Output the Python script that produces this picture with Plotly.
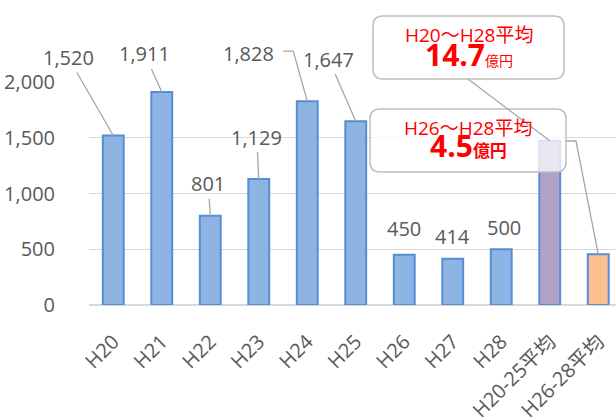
import plotly.graph_objects as go

# --- data -------------------------------------------------------------
categories = ["H20", "H21", "H22", "H23", "H24", "H25", "H26", "H27", "H28",
              "H20-25平均", "H26-28平均"]
yearly = [1520, 1911, 801, 1129, 1828, 1647, 450, 414, 500]
avg_early = round(sum(yearly[:6]) / 6, 1)   # H20-25 average
avg_late = round(sum(yearly[6:]) / 3, 1)    # H26-28 average
values = yearly + [avg_early, avg_late]
value_labels = [f"{v:,}" for v in yearly]

y_ticks = [0, 500, 1000, 1500, 2000]
y_tick_text = [f"{v:,}" for v in y_ticks]

box_titles = ["H20～H28平均", "H26～H28平均"]
box_amounts = ["14.7", "4.5"]
box_unit = "億円"

# --- styling ----------------------------------------------------------
W, H = 616, 419
ML, MR, MT, MB = 89, 0, 82, 114
PW, PH = W - ML - MR, H - MT - MB
FONT = "Open Sans, Noto Sans CJK JP"
GREY_TXT = "#595959"
LEADER = "#A6A6A6"
BLUE_FILL, BLUE_EDGE = "#8EB4E3", "#558ED5"
colors = [BLUE_FILL] * 9 + ["#B1A0C7", "#FAC090"]
CAT_PX = 48.5                      # pixel width of one category slot
X_RANGE = [-0.5, -0.5 + PW / CAT_PX]
Y_RANGE = [0, 2000]


def px(x, y):
    """pixel position -> paper coordinates"""
    return (x - ML) / PW, (H - MB - y) / PH


def cat_px(i):
    return ML + (i + 0.5) * CAT_PX


def val_px(v):
    return H - MB - v / Y_RANGE[1] * PH


fig = go.Figure(go.Bar(
    x=categories, y=values,
    marker=dict(color=colors, line=dict(color=BLUE_EDGE, width=2)),
    width=0.43,
    hoverinfo="x+y",
))

# value labels: (dx, dy) offset of label centre from bar top, leader on/off
label_offsets = [(-45, -78, True), (-17, -38, True), (-2, -32, True),
                 (-2, -42, True), None, (-27, -62, True),
                 (0, -26, False), (0, -22, False), (3, -22, False)]
LABEL_FONT = dict(family=FONT, size=20, color=GREY_TXT)
annotations = []
for i, (lab, off) in enumerate(zip(value_labels, label_offsets)):
    if off is None:
        continue
    dx, dy, leader = off
    if leader:
        annotations.append(dict(
            x=i, y=yearly[i], xref="x", yref="y", text=lab,
            showarrow=True, arrowhead=0, arrowwidth=1.3, arrowcolor=LEADER,
            ax=dx, ay=dy, font=LABEL_FONT))
    else:
        annotations.append(dict(
            x=i, y=yearly[i], xref="x", yref="y", text=lab,
            showarrow=False, yshift=-dy, xshift=dx,
            xanchor="center", yanchor="middle", font=LABEL_FONT))

# H24 label with an elbow leader
i24 = 4
lx, ly = cat_px(i24) - 59, val_px(yearly[i24]) - 48
ax_, ay_ = px(lx, ly)
annotations.append(dict(x=ax_, y=ay_, xref="paper", yref="paper",
                        text=value_labels[i24], showarrow=False,
                        xanchor="center", yanchor="middle", font=LABEL_FONT))

shapes = []


def line_path(points):
    pts = [px(*p) for p in points]
    return "M " + " L ".join(f"{a:.5f},{b:.5f}" for a, b in pts)


shapes.append(dict(type="path", xref="paper", yref="paper",
                   path=line_path([(lx + 35, ly - 2), (lx + 45, ly - 2),
                                   (cat_px(i24), val_px(yearly[i24]))]),
                   line=dict(color=LEADER, width=1.3)))


def rounded_box(x0, y0, x1, y1, r):
    rx, ry = r / PW, r / PH
    a0, b1 = px(x0, y0)
    a1, b0 = px(x1, y1)
    return (f"M {a0+rx},{b1} L {a1-rx},{b1} Q {a1},{b1} {a1},{b1-ry} "
            f"L {a1},{b0+ry} Q {a1},{b0} {a1-rx},{b0} L {a0+rx},{b0} "
            f"Q {a0},{b0} {a0},{b0+ry} L {a0},{b1-ry} Q {a0},{b1} {a0+rx},{b1} Z")


# callout boxes
box1 = (373, 16, 564, 79)
box2 = (370, 109, 566, 172)
shapes.append(dict(type="path", xref="paper", yref="paper",
                   path=rounded_box(*box1, 10), fillcolor="white",
                   line=dict(color="#BFBFBF", width=1.5), layer="above"))
shapes.append(dict(type="path", xref="paper", yref="paper",
                   path=rounded_box(*box2, 10), fillcolor="rgba(255,255,255,0.75)",
                   line=dict(color="#BFBFBF", width=1.5), layer="above"))

# leader lines from callouts to the average bars
shapes.append(dict(type="path", xref="paper", yref="paper",
                   path=line_path([(468, 79), (cat_px(9), val_px(avg_early))]),
                   line=dict(color=LEADER, width=1.3)))
shapes.append(dict(type="path", xref="paper", yref="paper",
                   path=line_path([(566, 141), (576, 141),
                                   (cat_px(10), val_px(avg_late))]),
                   line=dict(color=LEADER, width=1.3)))

# callout texts
RED = "#FF0000"
for (bx0, by0, bx1, by1), title, amount, unit_html, dy in [
        (box1, box_titles[0], box_amounts[0],
         f"<span style='font-size:14px'>{box_unit}</span>", 38),
        (box2, box_titles[1], box_amounts[1],
         f"<b><span style='font-size:17px'>{box_unit}</span></b>", 36)]:
    cx = (bx0 + bx1) / 2
    tx, ty = px(cx, by0 + 19)
    annotations.append(dict(x=tx, y=ty, xref="paper", yref="paper",
                            text=title, showarrow=False,
                            xanchor="center", yanchor="middle",
                            font=dict(family=FONT, size=19, color=RED)))
    mx, my = px(cx, by0 + dy)
    annotations.append(dict(x=mx, y=my, xref="paper", yref="paper",
                            text=f"<b>{amount}</b>{unit_html}", showarrow=False,
                            xanchor="center", yanchor="middle",
                            font=dict(family=FONT, size=30, color=RED)))

fig.update_layout(
    width=W, height=H,
    margin=dict(l=ML, r=MR, t=MT, b=MB, pad=0, autoexpand=False),
    paper_bgcolor="white", plot_bgcolor="white",
    showlegend=False,
    bargap=0.57,
    xaxis=dict(range=X_RANGE, tickangle=-45, showgrid=False, automargin=False,
               tickfont=dict(family=FONT, size=20, color=GREY_TXT),
               showline=True, linecolor="#D9D9D9", linewidth=1,
               ticks="", fixedrange=True, ticklabelstandoff=16),
    yaxis=dict(range=Y_RANGE, tickvals=y_ticks, ticktext=y_tick_text,
               automargin=False,
               showgrid=True, gridcolor="#D9D9D9", gridwidth=1,
               zeroline=True, zerolinecolor="#D9D9D9",
               tickfont=dict(family=FONT, size=20, color=GREY_TXT),
               ticks="", ticklabelstandoff=33, fixedrange=True),
    annotations=annotations,
    shapes=shapes,
)

fig.write_html("out.html")
